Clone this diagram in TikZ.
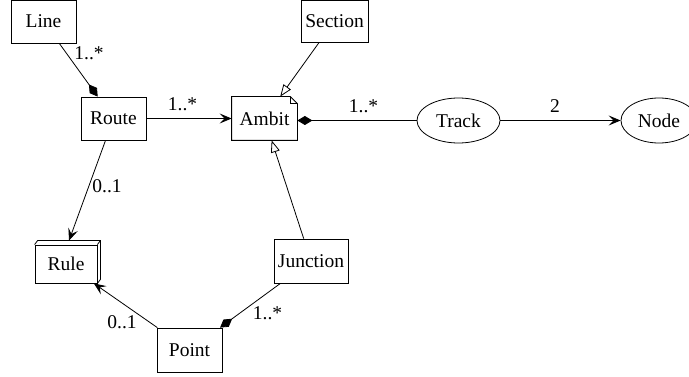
\documentclass[tikz,border=0pt]{standalone}
\usepackage{fontspec}
\setmainfont{Liberation Serif}
\usetikzlibrary{arrows.meta,shapes.geometric}
\begin{document}
\begin{tikzpicture}[x=1pt,y=-1pt,line width=0.8pt,
	every node/.style={font=\fontsize{19.5}{22}\selectfont},
	cls/.style={draw,minimum width=65pt,minimum height=43pt,inner sep=1pt},
	usecase/.style={draw,ellipse,minimum width=83pt,minimum height=45pt,inner sep=1pt},
	lbl/.style={inner sep=0pt},
	assoc/.style={-{Stealth[length=12pt,width=10pt,inset=5pt]}},
	compose/.style={-{Diamond[length=15pt,width=9pt]}},
	inherit/.style={-{Triangle[open,length=12pt,width=9pt,fill=white]}}]
	\useasboundingbox (0,0) rectangle (689,377);
	% classes
	\node[cls] (line) at (43.5,21.5) {Line};
	\node[cls] (route) at (113.5,118.5) {Route};
	\node[cls,minimum width=67pt,minimum height=42pt] (section) at (334.5,21) {Section};
	\node[cls,draw=none] (ambit) at (264.5,118.5) {Ambit};
	\draw (ambit.north west) -- ([xshift=-7pt]ambit.north east) -- ([yshift=-7pt]ambit.north east)
		-- (ambit.south east) -- (ambit.south west) -- cycle;
	\draw ([xshift=-7pt]ambit.north east) |- ([yshift=-7pt]ambit.north east);
	\node[usecase] (track) at (458.5,120.5) {Track};
	\node[usecase,minimum width=76pt] (node) at (659,120.5) {Node};
	\node[cls,minimum width=62pt,minimum height=38pt] (rule) at (66,264) {Rule};
	\draw (rule.north west) -- ++(3,-4) -- ([shift={(3,-4)}]rule.north east)
		-- ([shift={(3,-4)}]rule.south east) -- (rule.south east);
	\draw (rule.north east) -- ++(3,-4);
	\node[cls,minimum height=44pt] (point) at (189.5,350) {Point};
	\node[cls,minimum width=74pt,minimum height=44pt] (junction) at (311,261) {Junction};
	% relations
	\draw[compose] (line) -- (route);
	\draw[assoc] (route) -- (ambit);
	\draw[inherit] (section) -- (ambit);
	\draw[compose] (track) -- (ambit.east |- track.west);
	\draw[assoc] (track) -- (node);
	\draw[assoc] (route) -- ([shift={(3,-4)}]rule.north);
	\draw[inherit] (junction) -- (ambit);
	\draw[assoc] (point) -- (rule);
	\draw[compose] (junction) -- (point);
	% multiplicities
	\node[lbl] (m1) at (89,53) {1..*};
	\node[lbl] (m2) at (182.5,104) {1..*};
	\node[lbl] (m3) at (363.5,106) {1..*};
	\node[lbl] (m4) at (555,106) {2};
	\node[lbl] (m5) at (107,186.5) {0..1};
	\node[lbl] (m6) at (122,322.5) {0..1};
	\node[lbl] (m7) at (267.5,313) {1..*};
\end{tikzpicture}
\end{document}
